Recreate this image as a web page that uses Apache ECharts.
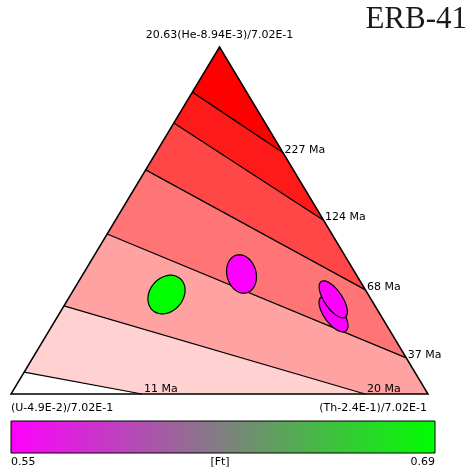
<!DOCTYPE html>
<html>
<head>
<meta charset="utf-8">
<script src="https://cdn.jsdelivr.net/npm/echarts@6/dist/echarts.min.js"></script>
<style>
  html, body { margin: 0; padding: 0; background: #fff; }
  #chart { width: 468px; height: 475px; }
</style>
</head>
<body>
<div id="chart"></div>
<script>
// Helioplot (He-U-Th ternary) with age isochrons and sample error ellipses.
// Ternary compositions are stored as [He, U, Th] fractions.
const sampleName = 'ERB-41';
const apexLabel = '20.63(He-8.94E-3)/7.02E-1';
const leftLabel = '(U-4.9E-2)/7.02E-1';
const rightLabel = '(Th-2.4E-1)/7.02E-1';
const ftTitle = '[Ft]';

const isochronAges = ['227 Ma', '124 Ma', '68 Ma', '37 Ma', '20 Ma', '11 Ma'];
const isochronStart = [[0.870, 0.130, 0], [0.781, 0.219, 0], [0.646, 0.354, 0], [0.461, 0.539, 0], [0.254, 0.746, 0], [0.063, 0.937, 0]];
const isochronEnd = [[0.695, 0, 0.305], [0.501, 0, 0.499], [0.300, 0, 0.700], [0.104, 0, 0.896], [0, 0.151, 0.849], [0, 0.686, 0.314]];
const bandColors = ['#FF0000', '#FF1A1A', '#FF4747', '#FF7474', '#FFA2A2', '#FFD1D1'];

const sampleHe = [0.2867, 0.3458, 0.2305, 0.2729];
const sampleU = [0.4838, 0.2743, 0.1114, 0.0907];
const sampleTh = [0.2295, 0.3799, 0.6581, 0.6364];
const sampleFt = [0.69, 0.55, 0.55, 0.55];
// error ellipses: semi-axes as a fraction of the triangle base, orientation in degrees
const ellipseMajor = [0.0504, 0.0468, 0.0504, 0.0516];
const ellipseMinor = [0.0400, 0.0350, 0.0225, 0.0215];
const ellipseAngle = [50, 105, 126, 124];

const ftMin = 0.55, ftMax = 0.69;
const ftColors = ['#FF00FF', '#00FF00'];
const ftTicks = ['0.55', '0.69'];

const FONT = '11px "DejaVu Sans"';

function toXY(t) {
  const s = t[0] + t[1] + t[2];
  const he = t[0] / s, th = t[2] / s;
  return [th + he / 2, he];
}
// position along the perimeter: apex(0) -> Th corner(1) -> U corner(2) -> apex(3)
function perim(t) {
  const eps = 1e-9;
  if (t[1] <= eps) return 1 - t[0];
  if (t[0] <= eps) return 1 + t[1];
  return 2 + t[0];
}
const APEX = [1, 0, 0], TH_CORNER = [0, 0, 1], U_CORNER = [0, 1, 0];
const corners = [{ s: 1, t: TH_CORNER }, { s: 2, t: U_CORNER }];

function bandPolygon(i) {
  const upEnd = i === 0 ? APEX : isochronEnd[i - 1];
  const upStart = i === 0 ? APEX : isochronStart[i - 1];
  const sUe = i === 0 ? 0 : perim(upEnd);
  const sUs = i === 0 ? 3 : perim(upStart);
  const loEnd = isochronEnd[i], loStart = isochronStart[i];
  const sLe = perim(loEnd), sLs = perim(loStart);
  const pts = [upEnd];
  corners.forEach(c => { if (c.s > sUe && c.s < sLe) pts.push(c.t); });
  pts.push(loEnd, loStart);
  corners.forEach(c => { if (c.s > sLs && c.s < sUs) pts.push(c.t); });
  pts.push(upStart);
  return pts.map(toXY);
}

const chart = echarts.init(document.getElementById('chart'), null, { renderer: 'canvas' });

const bandData = bandColors.map((c, i) => [i, 0]);
const isoData = isochronAges.map((a, i) => [i, 0]);
const sampleData = sampleHe.map((he, i) => {
  const xy = toXY([he, sampleU[i], sampleTh[i]]);
  return [xy[0], xy[1], sampleFt[i], i];
});

const gradStops = ftColors.map((c, i) => ({ offset: i / (ftColors.length - 1), color: c }));

const option = {
  animation: false,
  backgroundColor: '#ffffff',
  title: {
    text: sampleName,
    right: 1,
    top: 4,
    padding: 0,
    textStyle: { fontFamily: '"Liberation Serif"', fontSize: 31, fontWeight: 'normal', color: '#1a1a1a' }
  },
  grid: { left: 11, right: 40, top: 47, bottom: 81 },
  xAxis: { type: 'value', min: 0, max: 1, show: false },
  yAxis: { type: 'value', min: 0, max: 1, show: false },
  visualMap: {
    type: 'continuous',
    show: false,
    min: ftMin,
    max: ftMax,
    dimension: 2,
    seriesIndex: 3,
    inRange: { color: ftColors }
  },
  series: [
    {
      // shaded age bands between consecutive isochrons
      type: 'custom',
      coordinateSystem: 'cartesian2d',
      silent: true,
      z: 1,
      data: bandData,
      renderItem: function (params, api) {
        const i = params.dataIndex;
        const pts = bandPolygon(i).map(p => api.coord(p));
        return {
          type: 'polygon',
          shape: { points: pts },
          style: { fill: bandColors[i], stroke: bandColors[i], lineWidth: 0.5 }
        };
      }
    },
    {
      // isochron lines with their age labels
      type: 'custom',
      coordinateSystem: 'cartesian2d',
      silent: true,
      z: 2,
      data: isoData,
      renderItem: function (params, api) {
        const i = params.dataIndex;
        const a = api.coord(toXY(isochronStart[i]));
        const b = api.coord(toXY(isochronEnd[i]));
        const onBottom = isochronEnd[i][0] === 0;
        return {
          type: 'group',
          children: [
            {
              type: 'line',
              shape: { x1: a[0], y1: a[1], x2: b[0], y2: b[1] },
              style: { stroke: '#000', lineWidth: 1.25 }
            },
            {
              type: 'text',
              x: b[0] + (onBottom ? 2 : 1.5),
              y: b[1] - (onBottom ? 4.5 : 3),
              z2: 10,
              style: { text: isochronAges[i], fill: '#000', font: FONT, align: 'left', verticalAlign: 'middle' }
            }
          ]
        };
      }
    },
    {
      // triangle frame and corner labels
      type: 'custom',
      coordinateSystem: 'cartesian2d',
      silent: true,
      z: 3,
      data: [[0, 0]],
      renderItem: function (params, api) {
        const top = api.coord(toXY(APEX));
        const left = api.coord(toXY(U_CORNER));
        const right = api.coord(toXY(TH_CORNER));
        return {
          type: 'group',
          children: [
            {
              type: 'polygon',
              shape: { points: [top, right, left] },
              style: { fill: 'none', stroke: '#000', lineWidth: 1.5, lineJoin: 'miter' }
            },
            {
              type: 'text', x: top[0], y: top[1] - 12,
              style: { text: apexLabel, fill: '#000', font: FONT, align: 'center', verticalAlign: 'middle' }
            },
            {
              type: 'text', x: left[0], y: left[1] + 14,
              style: { text: leftLabel, fill: '#000', font: FONT, align: 'left', verticalAlign: 'middle' }
            },
            {
              type: 'text', x: right[0] - 1, y: right[1] + 14,
              style: { text: rightLabel, fill: '#000', font: FONT, align: 'right', verticalAlign: 'middle' }
            }
          ]
        };
      }
    },
    {
      // sample error ellipses coloured by Ft
      type: 'custom',
      coordinateSystem: 'cartesian2d',
      z: 4,
      encode: { x: 0, y: 1 },
      data: sampleData,
      renderItem: function (params, api) {
        const i = api.value(3);
        const c = api.coord([api.value(0), api.value(1)]);
        const unit = api.size([1, 0])[0];
        const a = ellipseMajor[i] * unit, b = ellipseMinor[i] * unit;
        const th = ellipseAngle[i] * Math.PI / 180;
        const pts = [];
        const n = 48;
        for (let k = 0; k < n; k++) {
          const t = 2 * Math.PI * k / n;
          const ex = a * Math.cos(t), ey = b * Math.sin(t);
          pts.push([c[0] + ex * Math.cos(th) - ey * Math.sin(th), c[1] - (ex * Math.sin(th) + ey * Math.cos(th))]);
        }
        return {
          type: 'polygon',
          shape: { points: pts },
          style: { fill: api.visual('color'), stroke: '#000', lineWidth: 1.2 }
        };
      }
    }
  ],
  graphic: [
    {
      type: 'rect',
      shape: { x: 11, y: 421, width: 424, height: 32 },
      style: {
        fill: new echarts.graphic.LinearGradient(0, 0, 1, 0, gradStops),
        stroke: '#000',
        lineWidth: 1
      }
    },
    {
      type: 'text', x: 11, y: 462,
      style: { text: ftTicks[0], fill: '#000', font: FONT, align: 'left', verticalAlign: 'middle' }
    },
    {
      type: 'text', x: 220, y: 462,
      style: { text: ftTitle, fill: '#000', font: FONT, align: 'center', verticalAlign: 'middle' }
    },
    {
      type: 'text', x: 435, y: 462,
      style: { text: ftTicks[1], fill: '#000', font: FONT, align: 'right', verticalAlign: 'middle' }
    }
  ]
};

chart.setOption(option);
</script>
</body>
</html>
